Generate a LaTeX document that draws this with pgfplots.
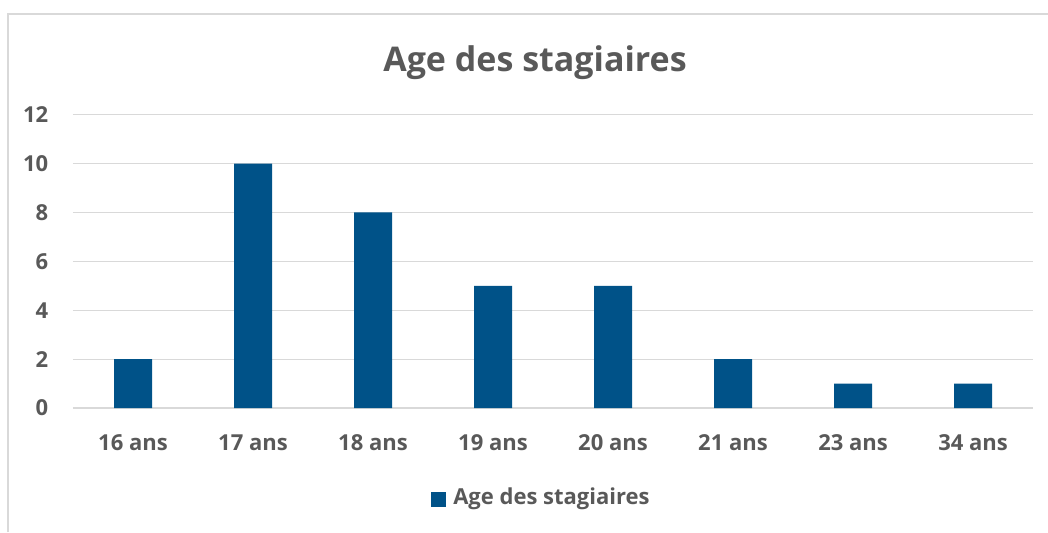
\documentclass[border=0pt]{standalone}
\usepackage{fontspec}
\setmainfont{Open Sans}
\usepackage{pgfplots}
\pgfplotsset{compat=1.18}
\definecolor{barblue}{RGB}{0,82,136}
\definecolor{txtgray}{RGB}{89,89,89}
\definecolor{gridgray}{RGB}{217,217,217}
\definecolor{bordergray}{RGB}{217,217,217}
\begin{document}
\begin{tikzpicture}[x=0.75pt,y=0.75pt]
\useasboundingbox (0,0) rectangle (1048,532);
\draw[bordergray,line width=1.2pt] (8,0) -- (8,518) -- (1048,518);
\begin{axis}[
  at={(54.75pt,93pt)}, anchor=south west,
  scale only axis, width=720pt, height=220pt,
  xmin=-0.5, xmax=7.5, ymin=0, ymax=12,
  ytick={0,2,...,12},
  xtick={0,...,7},
  xticklabels={16 ans,17 ans,18 ans,19 ans,20 ans,21 ans,23 ans,34 ans},
  axis line style={draw=none},
  major tick length=0pt,
  ymajorgrids, grid style={gridgray,line width=0.9pt},
  tick label style={font=\fontsize{16.5}{19}\selectfont\bfseries, text=txtgray},
  /pgf/number format/assume math mode=true,
  yticklabel style={xshift=-15pt},
  xticklabel style={anchor=base, yshift=-32pt},
  clip=false,
]
\addplot[ybar, bar width=28.5pt, fill=barblue, draw=none] coordinates {
 (0,2) (1,10) (2,8) (3,5) (4,5) (5,2) (6,1) (7,1)
};
\end{axis}
\node[text=txtgray,font=\fontsize{25.5}{30}\selectfont\bfseries] at (535,469) {Age des stagiaires};
\fill[barblue] (431,25) rectangle (446,40);
\node[anchor=west,text=txtgray,font=\fontsize{16.5}{19}\selectfont\bfseries,inner sep=0pt] at (453,33) {Age des stagiaires};
\end{tikzpicture}
\end{document}
